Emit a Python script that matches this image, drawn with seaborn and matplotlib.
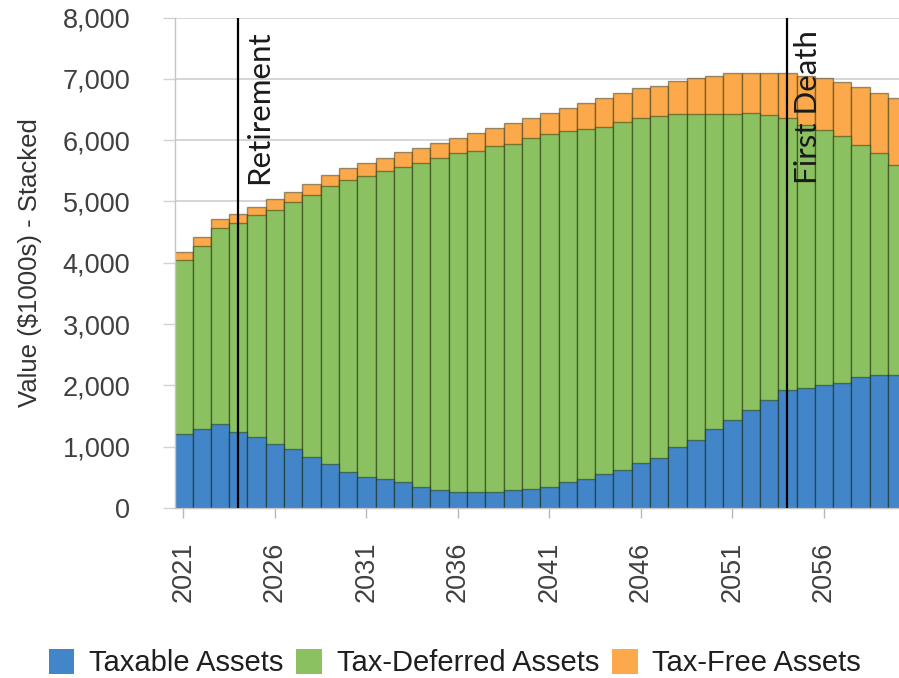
import matplotlib
matplotlib.use("Agg")
import matplotlib.pyplot as plt
import pandas as pd
import seaborn as sns
from matplotlib.patches import Patch
from matplotlib.ticker import FuncFormatter

# Projected portfolio by account type, in $1000s
years = list(range(2021, 2061))
taxable = [1207, 1289, 1370, 1245, 1163, 1044, 957, 837, 718, 593,
           511, 473, 430, 348, 294, 266, 266, 266, 294, 305,
           337, 430, 468, 549, 620, 739, 821, 990, 1109, 1284,
           1436, 1599, 1762, 1920, 1960, 2000, 2040, 2130, 2165, 2165]
tax_deferred = [2839, 2990, 3203, 3409, 3617, 3817, 4030, 4264, 4540, 4758,
                4910, 5030, 5128, 5275, 5411, 5520, 5563, 5644, 5644, 5726,
                5759, 5720, 5715, 5671, 5682, 5618, 5574, 5437, 5318, 5143,
                4991, 4840, 4649, 4437, 4290, 4166, 4029, 3792, 3631, 3430]
tax_free = [135, 147, 141, 137, 135, 175, 163, 179, 174, 201,
            212, 202, 245, 255, 255, 245, 294, 294, 348, 336,
            343, 370, 419, 463, 463, 489, 495, 539, 582, 620,
            664, 652, 680, 734, 797, 843, 884, 951, 969, 1088]

series_labels = ["Taxable Assets", "Tax-Deferred Assets", "Tax-Free Assets"]
events = {"Retirement": 2024, "First Death": 2054}
x_ticks = list(range(2021, 2060, 5))
y_ticks = list(range(0, 8001, 1000))

BLUE = "#4286C9"
GREEN = "#8CC162"
ORANGE = "#FBA94B"
EDGE = (0.05, 0.1, 0.0, 0.42)
GRID = "#d2d2d2"

sns.set_theme(style="white")
plt.rcParams["font.family"] = ["Liberation Sans", "DejaVu Sans"]

df = pd.DataFrame({"Year": years, "Taxable": taxable,
                   "TaxDeferred": tax_deferred, "TaxFree": tax_free})
df["DeferredTop"] = df["Taxable"] + df["TaxDeferred"]
df["FreeTop"] = df["DeferredTop"] + df["TaxFree"]

fig = plt.figure(figsize=(8.99, 6.78), dpi=100)
ax = fig.add_axes([175 / 899, 1 - 508 / 678, 1 - 175 / 899, (508 - 17.5) / 678])

# Stacked bars: draw cumulative totals from the top layer down
for col, color in [("FreeTop", ORANGE), ("DeferredTop", GREEN), ("Taxable", BLUE)]:
    sns.barplot(data=df, x="Year", y=col, native_scale=True, width=1.0,
                color=color, saturation=1, edgecolor=EDGE, linewidth=1.0,
                errorbar=None, ax=ax, zorder=2)

ax.set_xlim(2020.54, 2060.1)
ax.set_ylim(0, 8000)
ax.set_xticks(x_ticks)
ax.set_xticklabels([str(y) for y in x_ticks], rotation=90)
ax.set_yticks(y_ticks)
ax.yaxis.set_major_formatter(FuncFormatter(lambda v, p: f"{int(v):,}"))

ax.set_axisbelow(True)
ax.yaxis.grid(True, color=GRID, linewidth=1.3)
ax.xaxis.grid(False)

for side in ["top", "right"]:
    ax.spines[side].set_visible(False)
for side in ["left", "bottom"]:
    ax.spines[side].set_color("#c4c4c4")
    ax.spines[side].set_linewidth(1.0)

ax.tick_params(axis="y", which="major", left=True, length=8.6, width=1.0,
               color=GRID, pad=23.5, labelsize=19.5, labelcolor="#404040")
ax.tick_params(axis="x", which="major", bottom=True, length=7.2, width=1.0,
               color="#b8b8b8", pad=17, labelsize=19.5, labelcolor="#404040")

ax.set_xlabel("")
ax.set_ylabel("Value ($1000s) - Stacked", fontsize=18.5, color="#333333", labelpad=15)

# Event markers
for name, yr in events.items():
    ax.axvline(yr, color="black", linewidth=1.6, zorder=4)
    ax.annotate(name, xy=(yr, 1), xycoords=("data", "axes fraction"),
                xytext=(5.0, -9), textcoords="offset points",
                rotation=90, ha="left", va="top", fontsize=22.5,
                family="Lato", color="#1a1a1a", zorder=5)

handles = [Patch(facecolor=c, edgecolor="none") for c in (BLUE, GREEN, ORANGE)]
fig.legend(handles, series_labels, loc="center", bbox_to_anchor=(0.506, 0.022),
           ncol=3, frameon=False, fontsize=21, handlelength=0.88,
           handleheight=0.95, handletextpad=0.5, columnspacing=0.45,
           borderpad=0, borderaxespad=0, labelcolor="#1f1f1f")

fig.savefig("out.png", dpi=100)
